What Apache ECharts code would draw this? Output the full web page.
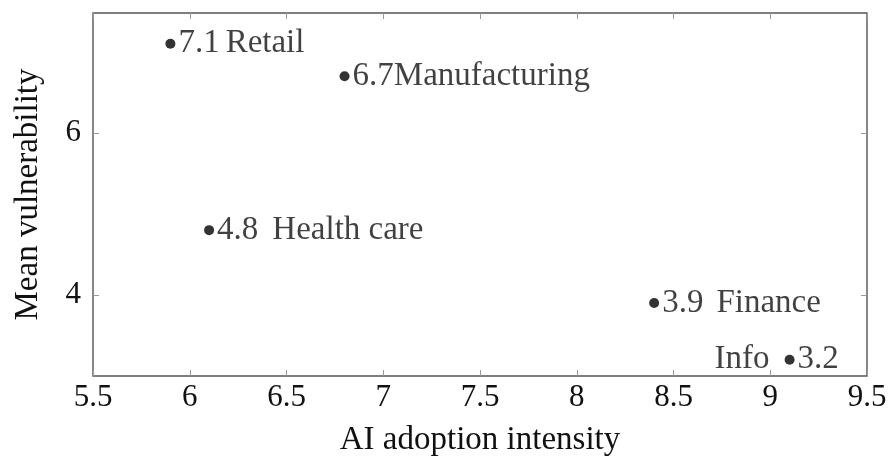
<!DOCTYPE html>
<html>
<head>
<meta charset="utf-8">
<script src="https://cdn.jsdelivr.net/npm/echarts@6/dist/echarts.min.js"></script>
<style>
  html, body { margin: 0; padding: 0; background: #fff; }
  #chart { width: 889px; height: 456px; }
</style>
</head>
<body>
<div id="chart"></div>
<script>
// Sectors: AI adoption intensity vs. mean vulnerability
const sectors = ['Retail', 'Manufacturing', 'Health care', 'Finance', 'Info'];
const adoption = [5.9, 6.8, 6.1, 8.4, 9.1];
const vulnerability = [7.1, 6.7, 4.8, 3.9, 3.2];
const xTicks = [5.5, 6, 6.5, 7, 7.5, 8, 8.5, 9, 9.5];
const yTicks = [4, 6];

const FONT = '"Liberation Serif", "DejaVu Serif", serif';
const TEXT = '#111';
const FRAME = '#555';
const TICK = '#999';
const FS = 33;      // point labels and axis titles
const FS_TICK = 31; // tick labels

// space between the value and the sector name; names placed on the left side of the dot
const nameGap = { 'Retail': 6, 'Manufacturing': 0, 'Health care': 14, 'Finance': 13 };
const nameLeft = { 'Info': true };

const points = sectors.map((s, i) => {
  const v = vulnerability[i].toFixed(1);
  const onLeft = !!nameLeft[s];
  return {
    name: s,
    value: [adoption[i], vulnerability[i]],
    label: {
      formatter: onLeft ? '{v|' + v + '}' : '{v|' + v + '}{n|' + s + '}',
      rich: {
        v: { fontFamily: FONT, fontSize: FS, color: TEXT },
        n: { fontFamily: FONT, fontSize: FS, color: TEXT, padding: [0, 0, 0, nameGap[s] || 0] }
      }
    }
  };
});

const leftNames = sectors
  .map((s, i) => ({ s, i }))
  .filter(o => nameLeft[o.s])
  .map(o => ({ name: o.s, value: [adoption[o.i], vulnerability[o.i]] }));

const baseX = {
  type: 'value', min: xTicks[0], max: xTicks[xTicks.length - 1], interval: 0.5,
  splitLine: { show: false },
  axisLine: { show: false }
};
const baseY = {
  type: 'value', min: 3, max: 7.48,
  splitLine: { show: false },
  axisLine: { show: false }
};

const chart = echarts.init(document.getElementById('chart'), null, { renderer: 'canvas' });
chart.setOption({
  animation: false,
  backgroundColor: '#fff',
  grid: {
    left: 93, right: 22, top: 13, bottom: 80,
    containLabel: false, outerBoundsMode: 'none',
    show: true, borderColor: FRAME, borderWidth: 1.4, backgroundColor: 'transparent'
  },
  xAxis: [
    Object.assign({}, baseX, {
      position: 'bottom',
      name: 'AI adoption intensity', nameLocation: 'middle', nameGap: 48,
      nameTextStyle: { fontFamily: FONT, fontSize: FS, color: TEXT },
      axisTick: { show: true, inside: true, length: 6, lineStyle: { color: TICK, width: 1 } },
      axisLabel: { fontFamily: FONT, fontSize: FS_TICK, color: TEXT, margin: 6, formatter: v => String(v) }
    }),
    Object.assign({}, baseX, {
      position: 'top',
      axisTick: { show: true, inside: true, length: 6, lineStyle: { color: TICK, width: 1 } },
      axisLabel: { show: false }
    })
  ],
  yAxis: [
    Object.assign({}, baseY, {
      position: 'left',
      name: 'Mean vulnerability', nameLocation: 'middle', nameGap: 48,
      nameTextStyle: { fontFamily: FONT, fontSize: FS, color: TEXT },
      axisTick: { show: true, inside: true, length: 6, customValues: yTicks, lineStyle: { color: TICK, width: 1 } },
      axisLabel: { fontFamily: FONT, fontSize: FS_TICK, color: TEXT, margin: 12, customValues: yTicks }
    }),
    Object.assign({}, baseY, {
      position: 'right',
      axisTick: { show: true, inside: true, length: 6, customValues: yTicks, lineStyle: { color: TICK, width: 1 } },
      axisLabel: { show: false }
    })
  ],
  series: [
    {
      type: 'scatter',
      xAxisIndex: 0, yAxisIndex: 0,
      symbol: 'circle', symbolSize: 10,
      itemStyle: { color: '#000' },
      label: { show: true, position: 'right', distance: 3 },
      data: points
    },
    {
      type: 'scatter',
      xAxisIndex: 0, yAxisIndex: 0,
      symbolSize: 0,
      label: {
        show: true, position: 'left', distance: 20,
        formatter: p => p.name,
        fontFamily: FONT, fontSize: FS, color: TEXT
      },
      data: leftNames
    }
  ]
});
</script>
</body>
</html>
